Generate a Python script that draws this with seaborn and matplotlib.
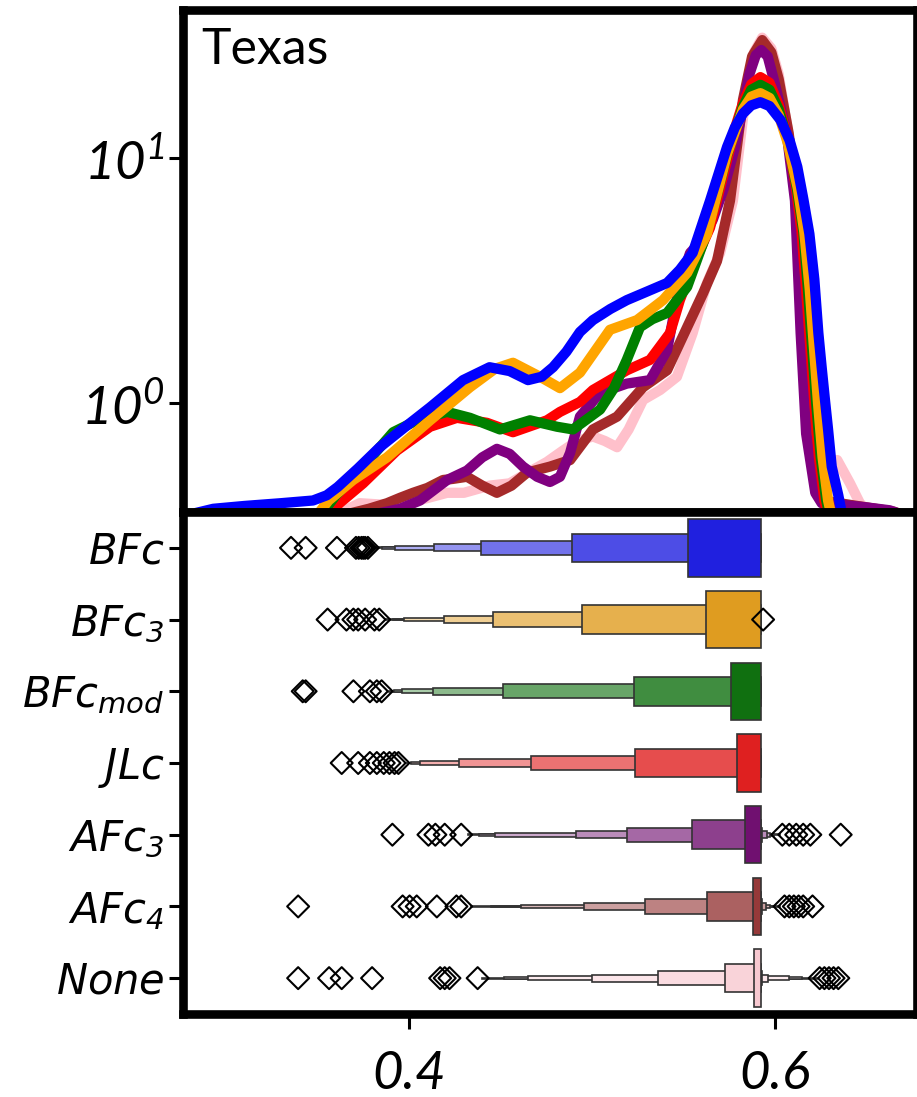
import numpy as np
import pandas as pd
import matplotlib
matplotlib.use("Agg")
import matplotlib.pyplot as plt
import seaborn as sns
from matplotlib.colors import to_rgb

sns.set_style("white")
plt.rcParams['font.family'] = ['Lato', 'DejaVu Sans']
plt.rcParams['mathtext.fontset'] = 'custom'
plt.rcParams['mathtext.it'] = 'DejaVu Sans:italic'
plt.rcParams['mathtext.rm'] = 'DejaVu Sans:italic'
plt.rcParams['mathtext.sf'] = 'Lato:italic'
plt.rcParams['mathtext.default'] = 'it'
plt.rcParams['text.color'] = 'black'
plt.rcParams['xtick.color'] = 'black'
plt.rcParams['ytick.color'] = 'black'
plt.rcParams['xtick.labelcolor'] = 'black'
plt.rcParams['ytick.labelcolor'] = 'black'

# ---------------- data ----------------
methods = ['BFc', 'BFc3', 'BFcmod', 'JLc', 'AFc3', 'AFc4', 'None']
method_labels = [r'$BFc$', r'$BFc_{3}$', r'$BFc_{mod}$', r'$JLc$',
                 r'$AFc_{3}$', r'$AFc_{4}$', r'$None$']
method_colors = ['blue', 'orange', 'green', 'red', 'purple', 'brown', 'pink']

xticks = [0.4, 0.6]
xtick_labels = ['0.4', '0.6']
yticks_top = [1, 10]
ytick_top_labels = [r'$\mathsf{10}^{\mathsf{0}}$', r'$\mathsf{10}^{\mathsf{1}}$']
panel_title = 'Texas'

# density curves
kde_x_BFc = [0.283, 0.293, 0.310, 0.330, 0.3475, 0.355, 0.361, 0.372, 0.384, 0.398, 0.4115,
             0.4295, 0.444, 0.455, 0.465, 0.4725, 0.4787, 0.486, 0.4934, 0.5005, 0.510, 0.519,
             0.530, 0.541, 0.548, 0.555, 0.5645, 0.5738, 0.578, 0.5825, 0.587, 0.592, 0.597,
             0.603, 0.608, 0.6122, 0.6155, 0.6188, 0.6215, 0.6237, 0.6255, 0.6273, 0.629,
             0.631, 0.6346, 0.637]
kde_y_BFc = [0.355, 0.37, 0.38, 0.39, 0.40, 0.42, 0.454, 0.54, 0.66, 0.80, 0.96,
             1.24, 1.40, 1.35, 1.24, 1.28, 1.40, 1.62, 1.95, 2.18, 2.42, 2.63,
             2.85, 3.09, 3.5, 4.1, 6.7, 11.1, 13.3, 15.2, 16.4, 16.9, 16.3,
             14.3, 11.8, 9.2, 6.8, 4.9, 3.2, 1.93, 1.4, 1.03, 0.78,
             0.55, 0.42, 0.34]

kde_x_BFc3 = [0.350, 0.356, 0.3694, 0.388, 0.4115, 0.4333, 0.447, 0.4568, 0.4716, 0.4825,
              0.4934, 0.5098, 0.5246, 0.5388, 0.552, 0.5628, 0.5738, 0.5825, 0.587, 0.592,
              0.597, 0.602, 0.607, 0.6125, 0.616, 0.619, 0.621, 0.6235, 0.626, 0.629, 0.6315]
kde_y_BFc3 = [0.35, 0.40, 0.485, 0.60, 0.85, 1.16, 1.38, 1.46, 1.28, 1.15,
              1.33, 1.99, 2.18, 2.63, 3.4, 4.9, 10.4, 15.8, 17.8, 18.4,
              17.6, 15.0, 11.5, 7.5, 5.0, 2.9, 1.8, 1.0, 0.6, 0.40, 0.33]

kde_x_BFcmod = [0.352, 0.360, 0.3749, 0.3913, 0.4044, 0.4208, 0.4333, 0.4497, 0.4661, 0.4809,
                0.4896, 0.5044, 0.512, 0.519, 0.5262, 0.533, 0.541, 0.552, 0.5607, 0.567,
                0.5738, 0.5825, 0.587, 0.592, 0.597, 0.602, 0.607, 0.612, 0.6155, 0.618,
                0.620, 0.6225, 0.625, 0.628, 0.6305]
kde_y_BFcmod = [0.35, 0.42, 0.55, 0.76, 0.85, 0.92, 0.87, 0.78, 0.85, 0.80,
                0.78, 0.94, 1.15, 1.50, 2.04, 2.2, 2.33, 2.98, 4.5, 6.5,
                10.3, 16.2, 19.0, 19.9, 19.0, 15.8, 11.8, 7.5, 5.0, 2.9,
                1.8, 1.0, 0.6, 0.40, 0.33]

kde_x_JLc = [0.356, 0.362, 0.3749, 0.3934, 0.4115, 0.4262, 0.4426, 0.4568, 0.4754, 0.4825,
             0.4934, 0.5005, 0.519, 0.5317, 0.5426, 0.548, 0.555, 0.5645, 0.5738, 0.5785,
             0.5825, 0.587, 0.592, 0.597, 0.602, 0.607, 0.6115, 0.6145, 0.617, 0.619,
             0.6215, 0.624, 0.627, 0.6295]
kde_y_JLc = [0.35, 0.39, 0.47, 0.64, 0.80, 0.87, 0.83, 0.76, 0.85, 0.92,
             1.01, 1.13, 1.36, 1.50, 1.93, 2.63, 3.6, 5.2, 9.8, 13.5,
             16.8, 20.0, 21.4, 20.3, 16.5, 12.0, 7.5, 5.0, 2.9, 1.8,
             1.0, 0.6, 0.40, 0.33]

kde_x_AFc3 = [0.380, 0.395, 0.406, 0.4208, 0.4317, 0.440, 0.448, 0.455, 0.4623, 0.470,
              0.477, 0.4825, 0.488, 0.4934, 0.5044, 0.519, 0.5317, 0.541, 0.548, 0.5536,
              0.560, 0.566, 0.572, 0.578, 0.582, 0.586, 0.5895, 0.5925, 0.596, 0.600,
              0.6064, 0.6109, 0.614, 0.617, 0.622, 0.6255, 0.635, 0.650, 0.6626, 0.672]
kde_y_AFc3 = [0.35, 0.37, 0.40, 0.485, 0.53, 0.60, 0.65, 0.62, 0.55, 0.50,
              0.476, 0.50, 0.625, 0.88, 1.10, 1.20, 1.24, 1.64, 3.09, 4.1,
              4.6, 5.6, 7.5, 11.0, 15.5, 22.0, 26.3, 27.6, 26.0, 20.0,
              12.6, 6.7, 1.93, 0.75, 0.43, 0.39, 0.385, 0.375, 0.365, 0.345]

kde_x_AFc4 = [0.365, 0.378, 0.388, 0.395, 0.4022, 0.410, 0.4186, 0.424, 0.4317, 0.440,
              0.448, 0.456, 0.4645, 0.477, 0.488, 0.5005, 0.5137, 0.5279, 0.541, 0.552,
              0.5607, 0.5683, 0.5754, 0.5825, 0.5875, 0.593, 0.598, 0.602, 0.6075, 0.612,
              0.6155, 0.6185, 0.622, 0.626, 0.640, 0.655, 0.665, 0.672]
kde_y_AFc4 = [0.35, 0.37, 0.39, 0.41, 0.43, 0.45, 0.485, 0.49, 0.50, 0.46,
              0.43, 0.46, 0.52, 0.55, 0.585, 0.78, 0.88, 1.16, 1.36, 2.04,
              2.81, 3.8, 6.7, 17.3, 26.0, 30.3, 27.0, 21.0, 12.6, 6.7,
              1.93, 0.75, 0.45, 0.40, 0.385, 0.37, 0.36, 0.345]

kde_x_None = [0.362, 0.373, 0.385, 0.395, 0.405, 0.4208, 0.430, 0.444, 0.455, 0.465,
              0.4754, 0.4842, 0.492, 0.5005, 0.507, 0.5137, 0.520, 0.5279, 0.5372, 0.5464,
              0.555, 0.5628, 0.570, 0.577, 0.584, 0.5885, 0.593, 0.598, 0.602, 0.607,
              0.6115, 0.6155, 0.619, 0.623, 0.628, 0.634, 0.641, 0.6464, 0.652, 0.660]
kde_y_None = [0.355, 0.39, 0.385, 0.39, 0.40, 0.43, 0.43, 0.46, 0.47, 0.52,
              0.575, 0.64, 0.70, 0.73, 0.70, 0.66, 0.78, 1.03, 1.13, 1.28,
              1.93, 3.09, 4.1, 6.7, 18.0, 27.0, 31.0, 28.0, 22.0, 13.0,
              7.0, 2.2, 0.9, 0.62, 0.58, 0.585, 0.47, 0.39, 0.355, 0.34]

kde_x = [kde_x_BFc, kde_x_BFc3, kde_x_BFcmod, kde_x_JLc, kde_x_AFc3, kde_x_AFc4, kde_x_None]
kde_y = [kde_y_BFc, kde_y_BFc3, kde_y_BFcmod, kde_y_JLc, kde_y_AFc3, kde_y_AFc4, kde_y_None]

# letter-value boxes (lower / upper edge of each level, innermost first)
lv_lo_BFc = [0.5522, 0.4892, 0.4395, 0.4139, 0.3926, 0.3850, 0.3798]
lv_hi_BFc = [0.5923, 0.5923, 0.5923, 0.5923, 0.5923, 0.5923, 0.5923]
lv_lo_BFc3 = [0.5622, 0.4943, 0.4459, 0.4190, 0.3973, 0.3915, 0.3875]
lv_hi_BFc3 = [0.5923, 0.5923, 0.5923, 0.5923, 0.5923, 0.5923, 0.5923]
lv_lo_BFcmod = [0.5760, 0.5227, 0.4515, 0.4131, 0.3960, 0.3920, 0.3888]
lv_hi_BFcmod = [0.5923, 0.5923, 0.5923, 0.5923, 0.5923, 0.5923, 0.5923]
lv_lo_JLc = [0.5791, 0.5235, 0.4664, 0.4272, 0.4062, 0.4010, 0.3978]
lv_hi_JLc = [0.5923, 0.5923, 0.5923, 0.5923, 0.5923, 0.5923, 0.5923]
lv_lo_AFc3 = [0.5834, 0.5547, 0.5189, 0.4912, 0.4469, 0.4380, 0.4323]
lv_hi_AFc3 = [0.5923, 0.5925, 0.5928, 0.5955, 0.5970, 0.5995, 0.6030]
lv_lo_AFc4 = [0.5878, 0.5629, 0.5291, 0.4956, 0.4613, 0.4450, 0.4336]
lv_hi_AFc4 = [0.5923, 0.5925, 0.5930, 0.5950, 0.5975, 0.6000, 0.6026]
lv_lo_None = [0.5885, 0.5727, 0.5360, 0.5002, 0.4649, 0.4520, 0.4400]
lv_hi_None = [0.5923, 0.5925, 0.5930, 0.5962, 0.6077, 0.6150, 0.6230]

lv_lo = [lv_lo_BFc, lv_lo_BFc3, lv_lo_BFcmod, lv_lo_JLc, lv_lo_AFc3, lv_lo_AFc4, lv_lo_None]
lv_hi = [lv_hi_BFc, lv_hi_BFc3, lv_hi_BFcmod, lv_hi_JLc, lv_hi_AFc3, lv_hi_AFc4, lv_hi_None]

# outliers
out_BFc = [0.3355, 0.3435, 0.3606, 0.371, 0.3725, 0.374, 0.375, 0.376, 0.3775]
out_BFc3 = [0.3555, 0.3658, 0.3696, 0.3722, 0.376, 0.3811, 0.3837, 0.5935]
out_BFcmod = [0.3419, 0.3435, 0.3696, 0.3786, 0.3824, 0.385]
out_JLc = [0.3632, 0.3722, 0.3786, 0.3824, 0.3862, 0.3893, 0.3921, 0.3942]
out_AFc3 = [0.3909, 0.4106, 0.4144, 0.4195, 0.4285,
            0.604, 0.6078, 0.6116, 0.6154, 0.6193, 0.6359]
out_AFc4 = [0.3394, 0.3965, 0.4003, 0.4042, 0.4152, 0.4259, 0.4285,
            0.6052, 0.6078, 0.6103, 0.6129, 0.6154, 0.6205]
out_None = [0.3394, 0.3563, 0.3632, 0.3798, 0.4170, 0.4195, 0.4221, 0.4375,
            0.6244, 0.627, 0.6295, 0.632, 0.6346]
outliers = [out_BFc, out_BFc3, out_BFcmod, out_JLc, out_AFc3, out_AFc4, out_None]

# ---------------- figure ----------------
W, H = 917, 1097
fig = plt.figure(figsize=(W / 100, H / 100), dpi=100)
left = 182.5 / W
width = 1.0 - left
y_mid = 1 - 512 / H
ax_top = fig.add_axes([left, y_mid, width, (1 - 9.5 / H) - y_mid])
ax_bot = fig.add_axes([left, 1 - 1014 / H, width, y_mid - (1 - 1014 / H)])

xlim = (0.2762, 0.6776)
spine_lw = 6.2

# ---- upper panel: density lines
rows = []
for m, xs, ys in zip(methods, kde_x, kde_y):
    for a, b in zip(xs, ys):
        rows.append((m, a, b))
kde_df = pd.DataFrame(rows, columns=['method', 'x', 'density'])
pal = dict(zip(methods, method_colors))
sns.lineplot(data=kde_df, x='x', y='density', hue='method', hue_order=methods[::-1],
             palette=pal, linewidth=7.4, legend=False, ax=ax_top,
             solid_capstyle='butt', solid_joinstyle='round')
ax_top.set_yscale('log')
ax_top.set_xlim(*xlim)
ax_top.set_ylim(0.359, 40.4)
ax_top.set_yticks(yticks_top, labels=ytick_top_labels, fontsize=38)
ax_top.yaxis.set_minor_locator(matplotlib.ticker.NullLocator())
ax_top.tick_params(axis='y', left=True, length=10, width=2.2, pad=3, color='black')
ax_top.tick_params(axis='x', bottom=False, labelbottom=False, length=0)
ax_top.set_xlabel('')
ax_top.set_ylabel('')
ax_top.text(0.025, 0.965, panel_title, transform=ax_top.transAxes, fontsize=36,
            ha='left', va='top', color='black')

# ---- lower panel: letter-value boxes
line_col = '#333333'
for pos, (m, lo, hi) in enumerate(zip(methods, lv_lo, lv_hi)):
    base = np.array(to_rgb(sns.desaturate(pal[m], 0.75)))
    mixes = [0.0, 0.2, 0.37, 0.52, 0.64, 0.74, 0.82]
    k = len(lo)
    for i in range(k - 1, -1, -1):
        c = base + (1 - base) * mixes[i]
        h = 0.8 * 0.5 ** i
        ax_bot.barh(pos, hi[i] - lo[i], left=lo[i], height=h, color=c,
                    edgecolor=line_col, linewidth=1.2, zorder=2 + (k - i) * 0.01)

orow = []
for pos, vals in enumerate(outliers):
    for v in vals:
        orow.append((v, pos))
out_df = pd.DataFrame(orow, columns=['value', 'pos'])
sns.scatterplot(data=out_df, x='value', y='pos', marker='D', s=125,
                facecolor='none', edgecolor='black', linewidth=1.5,
                ax=ax_bot, zorder=3, legend=False)

ax_bot.set_xlim(*xlim)
ax_bot.set_ylim(6.5, -0.5)
ax_bot.set_yticks(range(len(methods)), labels=method_labels, fontsize=30)
ax_bot.set_xticks(xticks, labels=xtick_labels, fontsize=38, fontstyle='italic')
ax_bot.tick_params(axis='y', left=True, length=10, width=2.2, pad=3, color='black')
ax_bot.tick_params(axis='x', bottom=True, length=11, width=2.2, pad=15, color='black')
ax_bot.set_xlabel('')
ax_bot.set_ylabel('')

for ax in (ax_top, ax_bot):
    for sp in ax.spines.values():
        sp.set_visible(True)
        sp.set_color('black')
        sp.set_linewidth(spine_lw)
    ax.grid(False)
    ax.set_facecolor('white')

fig.savefig('out.png', dpi=100, facecolor='white')
